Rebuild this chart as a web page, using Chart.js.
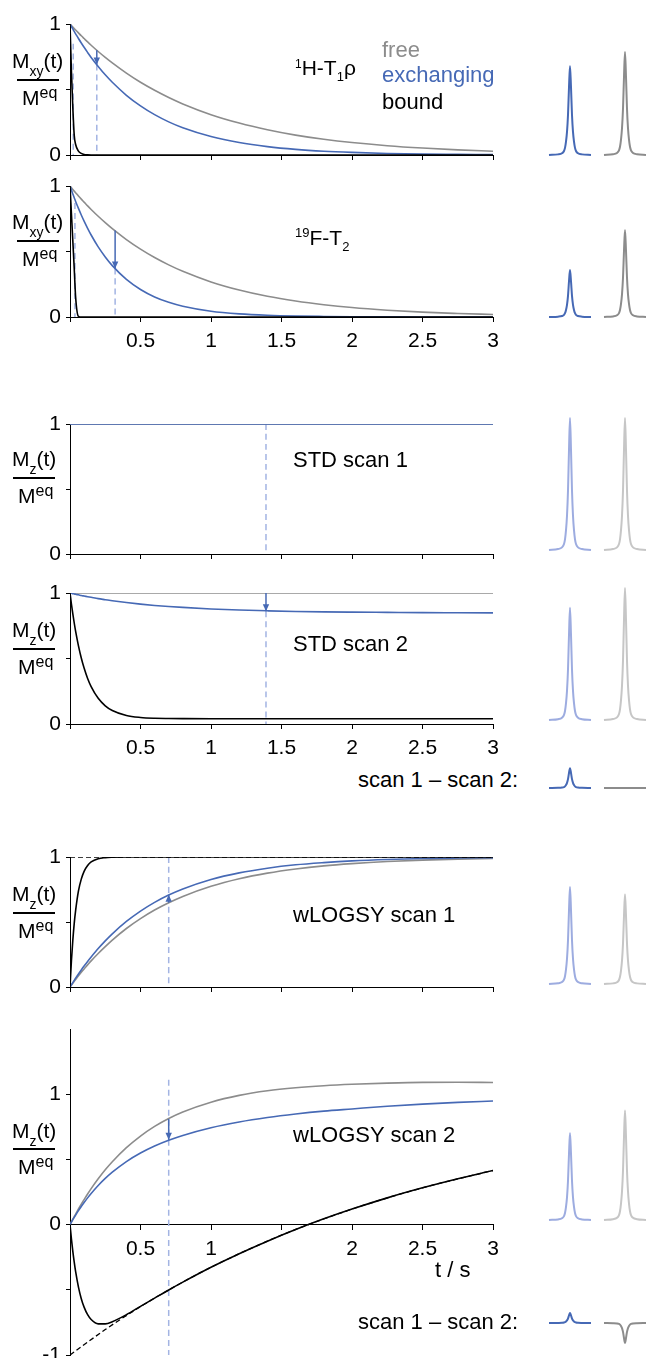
<!DOCTYPE html>
<html>
<head>
<meta charset="utf-8">
<script src="https://cdn.jsdelivr.net/npm/chart.js@4.4.1/dist/chart.umd.min.js"></script>
<style>
body { margin: 0; background: #fff; }
#page { position: relative; width: 646px; height: 1358px; overflow: hidden; font-family: "Liberation Sans", Arial, sans-serif; color: #000; }
#page canvas { position: absolute; }
.txt { position: absolute; font-size: 22px; line-height: 22px; white-space: nowrap; }
.frac { position: absolute; font-size: 21px; line-height: 21px; white-space: nowrap; }
.bar { position: absolute; width: 42px; height: 2px; background: #000; }
.sm { position: relative; font-size: 13px; }
.sub { position: relative; font-size: 14px; top: 8px; }
.eq { position: relative; font-size: 16px; top: -7px; }
</style>
</head>
<body>
<div id="page">
  <canvas id="p1" width="500" height="181" style="left:0;top:8px"></canvas>
  <canvas id="p2" width="500" height="181" style="left:0;top:170px"></canvas>
  <canvas id="p3" width="500" height="180" style="left:0;top:408px"></canvas>
  <canvas id="p4" width="500" height="181" style="left:0;top:577px"></canvas>
  <canvas id="p5" width="500" height="180" style="left:0;top:841px"></canvas>
  <canvas id="p6" width="500" height="345" style="left:0;top:1013px"></canvas>

  <canvas id="s0" width="106" height="165" style="left:540px;top:15px"></canvas>
  <canvas id="s1" width="106" height="165" style="left:540px;top:177px"></canvas>
  <canvas id="s2" width="106" height="165" style="left:540px;top:410px"></canvas>
  <canvas id="s3" width="106" height="165" style="left:540px;top:580px"></canvas>
  <canvas id="s4" width="106" height="165" style="left:540px;top:648px"></canvas>
  <canvas id="s5" width="106" height="165" style="left:540px;top:844px"></canvas>
  <canvas id="s6" width="106" height="165" style="left:540px;top:1080px"></canvas>
  <canvas id="s7" width="106" height="165" style="left:540px;top:1183px"></canvas>

  <!-- y axis labels -->
  <div class="frac" style="left:12px;top:50px">M<span class="sub">xy</span>(t)</div>
  <div class="bar" style="left:17px;top:79px"></div>
  <div class="frac" style="left:22px;top:87px">M<span class="eq">eq</span></div>

  <div class="frac" style="left:12px;top:211px">M<span class="sub">xy</span>(t)</div>
  <div class="bar" style="left:17px;top:240px"></div>
  <div class="frac" style="left:22px;top:248px">M<span class="eq">eq</span></div>

  <div class="frac" style="left:12px;top:448px">M<span class="sub">z</span>(t)</div>
  <div class="bar" style="left:13px;top:477px"></div>
  <div class="frac" style="left:18px;top:485px">M<span class="eq">eq</span></div>

  <div class="frac" style="left:12px;top:619px">M<span class="sub">z</span>(t)</div>
  <div class="bar" style="left:13px;top:648px"></div>
  <div class="frac" style="left:18px;top:656px">M<span class="eq">eq</span></div>

  <div class="frac" style="left:12px;top:883px">M<span class="sub">z</span>(t)</div>
  <div class="bar" style="left:13px;top:912px"></div>
  <div class="frac" style="left:18px;top:920px">M<span class="eq">eq</span></div>

  <div class="frac" style="left:12px;top:1120px">M<span class="sub">z</span>(t)</div>
  <div class="bar" style="left:13px;top:1148px"></div>
  <div class="frac" style="left:18px;top:1156px">M<span class="eq">eq</span></div>

  <!-- panel titles -->
  <div class="txt" style="left:295px;top:57px;font-size:21px;line-height:21px"><span class="sm" style="font-size:12px;top:-7px">1</span>H-T<span class="sm" style="top:6px">1</span>ρ</div>
  <div class="txt" style="left:295px;top:227px;font-size:21px;line-height:21px"><span class="sm" style="top:-8px">19</span>F-T<span class="sm" style="top:6px">2</span></div>
  <div class="txt" style="left:382px;top:39px;color:#8c8c8c">free</div>
  <div class="txt" style="left:382px;top:64px;color:#4669b5">exchanging</div>
  <div class="txt" style="left:382px;top:91px">bound</div>
  <div class="txt" style="left:293px;top:449px">STD scan 1</div>
  <div class="txt" style="left:293px;top:633px">STD scan 2</div>
  <div class="txt" style="left:358px;top:769px">scan 1 – scan 2:</div>
  <div class="txt" style="left:293px;top:904px">wLOGSY scan 1</div>
  <div class="txt" style="left:293px;top:1124px">wLOGSY scan 2</div>
  <div class="txt" style="left:435px;top:1259px">t / s</div>
  <div class="txt" style="left:358px;top:1311px">scan 1 – scan 2:</div>
</div>

<script>
// time grid (s) shared by the curves
const tGrid = [0, 0.01, 0.02, 0.03, 0.04, 0.06, 0.08, 0.1, 0.125, 0.15, 0.2, 0.25, 0.3, 0.4, 0.5, 0.6, 0.7, 0.8, 1, 1.2, 1.4, 1.6, 1.8, 2, 2.25, 2.5, 2.75, 3];
const tEnds = [0, 3];
const xTicks = [0, 0.5, 1, 1.5, 2, 2.5, 3];
const xLabels = ['', '0.5', '1', '1.5', '2', '2.5', '3'];
const xLabelsNone = ['', '', '', '', '', '', ''];
const xLabelsLast = ['', '0.5', '1', '', '2', '2.5', '3'];
const yTicks = [0, 0.5, 1];
const yLabels = ['0', '', '1'];
const yTicksLast = [-1, -0.5, 0, 0.5, 1];
const yLabelsLast = ['-1', '', '0', '', '1'];

// 1H-T1rho
const h1Free = [1, 0.988, 0.977, 0.965, 0.954, 0.932, 0.910, 0.889, 0.863, 0.838, 0.790, 0.745, 0.703, 0.625, 0.555, 0.494, 0.439, 0.390, 0.308, 0.244, 0.193, 0.152, 0.120, 0.095, 0.071, 0.053, 0.039, 0.029];
const h1Exch = [1, 0.981, 0.962, 0.943, 0.925, 0.889, 0.855, 0.822, 0.783, 0.745, 0.676, 0.612, 0.555, 0.456, 0.375, 0.308, 0.253, 0.208, 0.141, 0.095, 0.064, 0.043, 0.029, 0.020, 0.012, 0.007, 0.005, 0.003];
const h1Bound = [1, 0.64, 0.36, 0.15, 0.08, 0.03, 0.012, 0.004, 0.001, 0, 0, 0, 0, 0, 0, 0, 0, 0, 0, 0, 0, 0, 0, 0, 0, 0, 0, 0];
const h1Dash = [[0.023, 0.85], [0.19, 0.69]];
const h1Arrow = [0.19, 0.80, 0.69];

// 19F-T2
const f2Free = [1, 0.987, 0.974, 0.961, 0.949, 0.924, 0.900, 0.877, 0.848, 0.821, 0.769, 0.720, 0.674, 0.591, 0.518, 0.454, 0.398, 0.349, 0.268, 0.206, 0.158, 0.122, 0.094, 0.072, 0.052, 0.037, 0.027, 0.019];
const f2Exch = [1, 0.969, 0.939, 0.911, 0.882, 0.829, 0.779, 0.732, 0.677, 0.626, 0.535, 0.458, 0.392, 0.287, 0.210, 0.153, 0.112, 0.082, 0.044, 0.024, 0.013, 0.007, 0.004, 0.002, 0.001, 0, 0, 0];
const f2Bound = [1, 0.79, 0.58, 0.37, 0.15, 0.005, 0, 0, 0, 0, 0, 0, 0, 0, 0, 0, 0, 0, 0, 0, 0, 0, 0, 0, 0, 0, 0, 0];
const f2Dash = [[0.035, 0.87], [0.32, 0.37]];
const f2Arrow = [0.32, 0.66, 0.37];

// STD scan 1
const std1Free = [1, 1];
const std1Exch = [1, 1];
const std1Dash = [[1.39, 1]];

// STD scan 2
const std2Free = [1, 1];
const std2Exch = [1, 0.998, 0.995, 0.993, 0.990, 0.986, 0.981, 0.977, 0.972, 0.967, 0.957, 0.949, 0.941, 0.927, 0.915, 0.905, 0.897, 0.890, 0.878, 0.870, 0.864, 0.859, 0.856, 0.854, 0.852, 0.850, 0.849, 0.848];
const std2Bound = [1, 0.916, 0.840, 0.771, 0.707, 0.597, 0.504, 0.427, 0.348, 0.286, 0.196, 0.139, 0.103, 0.065, 0.050, 0.044, 0.042, 0.041, 0.04, 0.04, 0.04, 0.04, 0.04, 0.04, 0.04, 0.04, 0.04, 0.04];
const std2Dash = [[1.39, 0.86]];
const std2Arrow = [1.39, 1, 0.86];

// wLOGSY scan 1
const wl1Free = [0, 0.015, 0.029, 0.044, 0.058, 0.086, 0.113, 0.139, 0.170, 0.201, 0.258, 0.311, 0.361, 0.450, 0.526, 0.592, 0.648, 0.697, 0.775, 0.833, 0.876, 0.908, 0.932, 0.949, 0.965, 0.976, 0.984, 0.989];
const wl1Exch = [0, 0.017, 0.034, 0.051, 0.068, 0.100, 0.131, 0.161, 0.197, 0.231, 0.296, 0.355, 0.409, 0.504, 0.584, 0.651, 0.707, 0.754, 0.827, 0.878, 0.914, 0.940, 0.957, 0.970, 0.981, 0.988, 0.992, 0.995];
const wl1Bound = [0, 0.2, 0.36, 0.49, 0.59, 0.74, 0.83, 0.89, 0.935, 0.962, 0.987, 0.995, 0.998, 1, 1, 1, 1, 1, 1, 1, 1, 1, 1, 1, 1, 1, 1, 1];
const wl1Ref = [1, 1];
const wl1Dash = [[0.7, 1]];
const wl1Arrow = [0.7, 0.648, 0.71];

// wLOGSY scan 2
const wl2Free = [0, 0.021, 0.0415, 0.062, 0.081, 0.12, 0.157, 0.192, 0.235, 0.276, 0.351, 0.42, 0.482, 0.59, 0.679, 0.753, 0.814, 0.864, 0.939, 0.991, 1.026, 1.049, 1.065, 1.076, 1.085, 1.091, 1.092, 1.09];
const wl2Exch = [0, 0.019, 0.0375, 0.0555, 0.073, 0.107, 0.139, 0.169, 0.205, 0.2385, 0.300, 0.354, 0.402, 0.4835, 0.549, 0.603, 0.647, 0.684, 0.743, 0.787, 0.821, 0.848, 0.870, 0.887, 0.908, 0.924, 0.937, 0.948];
const wl2Bound = [0, -0.109, -0.205, -0.288, -0.361, -0.479, -0.568, -0.633, -0.691, -0.728, -0.761, -0.761, -0.745, -0.691, -0.627, -0.564, -0.501, -0.441, -0.327, -0.223, -0.127, -0.038, 0.044, 0.119, 0.205, 0.282, 0.352, 0.415];
const wl2RefT = [0, 0.25, 0.5, 0.75, 1, 1.5, 2, 2.5, 3];
const wl2Ref = [-1, -0.805, -0.629, -0.471, -0.327, -0.081, 0.119, 0.282, 0.415];
const wl2Dash = [[0.7, 1.11]];
const wl2Arrow = [0.7, 0.81, 0.65];

// spectra: one lineshape, peak heights per row (relative to STD scan 1)
const peakX = [-21, -12, -8, -6, -5, -4, -3, -2, -1, 0, 1, 2, 3, 4, 5, 6, 8, 12, 21];
const peakShape = [0, 0.007, 0.02, 0.045, 0.08, 0.15, 0.26, 0.45, 0.76, 1, 0.76, 0.45, 0.26, 0.15, 0.08, 0.045, 0.02, 0.007, 0];
const specBlue = [0.674, 0.356, 1.0, 0.85, 0.15, 0.735, 0.66, 0.075];
const specGray = [0.78, 0.66, 1.0, 1.0, 0, 0.68, 0.83, -0.15];
const specLight = [false, false, true, true, false, true, true, false];

const BLUE = '#4669b5';
const GRAY = '#8c8c8c';
const DASH = '#a3b4e3';
const LBLUE = '#9dace0';
const LGRAY = '#c6c6c6';
const FONT = "'Liberation Sans', Arial, sans-serif";

function curve(xs, ys, color, width) {
  return {
    data: xs.map((x, i) => ({ x: x, y: ys[i] })),
    borderColor: color,
    borderWidth: width || 1.6,
    pointRadius: 0,
    fill: false,
    cubicInterpolationMode: 'monotone'
  };
}

function dashed(xs, ys, color) {
  const ds = curve(xs, ys, color, 1.3);
  ds.borderDash = [5, 3];
  return ds;
}

// vertical light blue marker from the given value down to bottom
function marker(m, bottom) {
  const ds = curve([m[0], m[0]], [m[1], bottom], DASH, 1.5);
  ds.borderDash = [6, 4];
  return ds;
}

function arrow(a) {
  const ds = curve([a[0], a[0]], [a[1], a[2]], BLUE, 1.5);
  ds.arrow = true;
  return ds;
}

const arrowHeads = {
  id: 'arrowHeads',
  afterDatasetsDraw(chart) {
    const ctx = chart.ctx;
    chart.data.datasets.forEach((ds, i) => {
      if (!ds.arrow) return;
      const pts = chart.getDatasetMeta(i).data;
      const a = pts[0], b = pts[1];
      const ang = Math.atan2(b.y - a.y, b.x - a.x);
      ctx.save();
      ctx.fillStyle = ds.borderColor;
      ctx.translate(b.x, b.y);
      ctx.rotate(ang);
      ctx.beginPath();
      ctx.moveTo(0, 0);
      ctx.lineTo(-7, -3.2);
      ctx.lineTo(-7, 3.2);
      ctx.closePath();
      ctx.fill();
      ctx.restore();
    });
  }
};

function panel(id, datasets, cfg) {
  const ticksY = cfg.yTicks || yTicks;
  const labelsY = cfg.yLabels || yLabels;
  const labelsX = cfg.xLabels || xLabelsNone;
  const x = {
    type: 'linear', min: 0, max: 3,
    afterBuildTicks: s => { s.ticks = xTicks.map(v => ({ value: v })); },
    afterFit: s => {
      if (!cfg.xAtZero) s.height = 34;
      s.paddingLeft = 0;
      s.paddingRight = 0;
    },
    ticks: { autoSkip: false, maxRotation: 0, padding: 7, color: '#000', font: { family: FONT, size: 21 },
      callback: (v, i) => labelsX[i] },
    grid: { drawOnChartArea: false, color: '#000', tickLength: 5 },
    border: { color: '#000', width: 1 }
  };
  if (cfg.xAtZero) x.position = { y: 0 };
  new Chart(document.getElementById(id), {
    type: 'line',
    data: { datasets: datasets },
    options: {
      responsive: false,
      animation: false,
      layout: { padding: { top: 16, right: 7, left: 0, bottom: cfg.bottom || 0 } },
      plugins: { legend: { display: false }, tooltip: { enabled: false } },
      scales: {
        x: x,
        y: {
          min: cfg.ymin !== undefined ? cfg.ymin : 0,
          max: cfg.ymax || 1,
          afterBuildTicks: s => { s.ticks = ticksY.map(v => ({ value: v })); },
          afterFit: s => { s.width = 70; s.paddingTop = 0; s.paddingBottom = 0; },
          ticks: { autoSkip: false, padding: 5, color: '#000', font: { family: FONT, size: 21 },
            callback: (v, i) => labelsY[i] },
          grid: { drawOnChartArea: false, color: '#000', tickLength: 4 },
          border: { color: '#000', width: 1 }
        }
      }
    },
    plugins: [arrowHeads]
  });
}

// datasets listed top layer first
panel('p1', [
  arrow(h1Arrow),
  curve(tGrid, h1Bound, '#000'),
  curve(tGrid, h1Exch, BLUE),
  curve(tGrid, h1Free, GRAY),
  marker(h1Dash[0], 0),
  marker(h1Dash[1], 0)
], {});

panel('p2', [
  arrow(f2Arrow),
  curve(tGrid, f2Bound, '#000'),
  curve(tGrid, f2Exch, BLUE),
  curve(tGrid, f2Free, GRAY),
  marker(f2Dash[0], 0),
  marker(f2Dash[1], 0)
], { xLabels: xLabels });

panel('p3', [
  curve(tEnds, std1Exch, BLUE),
  curve(tEnds, std1Free, GRAY),
  marker(std1Dash[0], 0)
], {});

panel('p4', [
  arrow(std2Arrow),
  curve(tGrid, std2Bound, '#000'),
  curve(tGrid, std2Exch, BLUE),
  curve(tEnds, std2Free, GRAY),
  marker(std2Dash[0], 0)
], { xLabels: xLabels });

panel('p5', [
  arrow(wl1Arrow),
  curve(tGrid, wl1Bound, '#000'),
  dashed(tEnds, wl1Ref, '#000'),
  curve(tGrid, wl1Exch, BLUE),
  curve(tGrid, wl1Free, GRAY),
  marker(wl1Dash[0], 0)
], {});

panel('p6', [
  arrow(wl2Arrow),
  curve(tGrid, wl2Bound, '#000'),
  dashed(wl2RefT, wl2Ref, '#000'),
  curve(tGrid, wl2Exch, BLUE),
  curve(tGrid, wl2Free, GRAY),
  marker(wl2Dash[0], -1)
], { ymin: -1, ymax: 1.5, yTicks: yTicksLast, yLabels: yLabelsLast, xLabels: xLabelsLast, xAtZero: true, bottom: 3 });

// small spectra on the right, blue peak at 0 and grey peak at 55 (px-like units)
function spectrum(id, row) {
  const blue = specLight[row] ? LBLUE : BLUE;
  const gray = specLight[row] ? LGRAY : GRAY;
  const bluePeak = curve(peakX, peakShape.map(v => v * specBlue[row]), blue, 2);
  const grayPeak = curve(peakX.map(v => v + 55), peakShape.map(v => v * specGray[row]), gray, 2);
  new Chart(document.getElementById(id), {
    type: 'line',
    data: { datasets: [bluePeak, grayPeak] },
    options: {
      responsive: false,
      animation: false,
      layout: { padding: 0 },
      plugins: { legend: { display: false }, tooltip: { enabled: false } },
      scales: {
        x: { type: 'linear', min: -30, max: 76, display: false },
        y: { min: -25 / 132, max: 140 / 132, display: false }
      }
    }
  });
}

for (let r = 0; r < 8; r++) {
  spectrum('s' + r, r);
}
</script>
</body>
</html>
